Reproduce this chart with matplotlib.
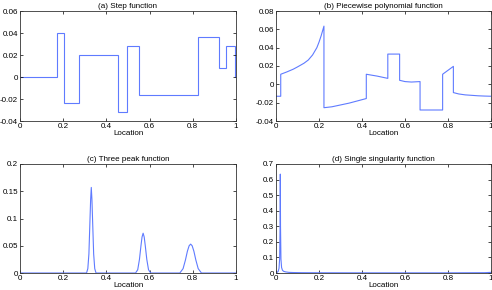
import matplotlib
matplotlib.use("Agg")
import matplotlib.pyplot as plt
import numpy as np

plt.rcParams['font.family'] = ['Liberation Sans', 'DejaVu Sans']

# (a) Step function: breakpoints and levels
step_edges = [0.0, 0.173, 0.206, 0.275, 0.456, 0.495, 0.553, 0.825, 0.923, 0.955, 0.995, 1.0]
step_levels = [0.0, 0.040, -0.024, 0.020, -0.032, 0.028, -0.016, 0.036, 0.008, 0.028, 0.0]

# (b) Piecewise polynomial: read points
poly_x = [0.0, 0.022, 0.022, 0.05, 0.08, 0.10, 0.13, 0.15, 0.17, 0.19, 0.20, 0.21, 0.223,
          0.223, 0.26, 0.30, 0.34, 0.38, 0.42,
          0.42, 0.47, 0.52,
          0.52, 0.575,
          0.575, 0.60, 0.63, 0.67,
          0.67, 0.775,
          0.775, 0.825,
          0.825, 0.85, 0.88, 0.91, 0.94, 0.97, 1.0]
poly_y = [-0.013, -0.013, 0.011, 0.0135, 0.0165, 0.019, 0.023, 0.0265, 0.032, 0.040, 0.046, 0.053, 0.0635,
          -0.0255, -0.0245, -0.0225, -0.0205, -0.018, -0.0155,
          0.011, 0.009, 0.0065,
          0.033, 0.033,
          0.0044, 0.003, 0.0025, 0.003,
          -0.028, -0.028,
          0.011, 0.0196,
          -0.009, -0.0105, -0.0115, -0.012, -0.0125, -0.0128, -0.013]

# (c) Three peak function: read points
peak_x = [0.0, 0.308, 0.314, 0.319, 0.323, 0.327, 0.33, 0.333, 0.337, 0.341, 0.346, 0.352,
          0.535, 0.545, 0.553, 0.560, 0.565, 0.57, 0.575, 0.580, 0.587, 0.595, 0.605,
          0.74, 0.755, 0.766, 0.775, 0.783, 0.79, 0.797, 0.805, 0.814, 0.825, 0.84, 1.0]
peak_y = [0.0, 0.0, 0.008, 0.035, 0.085, 0.135, 0.157, 0.135, 0.085, 0.035, 0.008, 0.0,
          0.0, 0.006, 0.025, 0.05, 0.066, 0.073, 0.066, 0.05, 0.025, 0.006, 0.0,
          0.0, 0.008, 0.024, 0.040, 0.050, 0.053, 0.050, 0.040, 0.024, 0.008, 0.0, 0.0]

# (d) Single singularity function: read points
sing_x = [0.0, 0.005, 0.010, 0.014, 0.017, 0.019, 0.020, 0.021, 0.023, 0.026, 0.030,
          0.035, 0.045, 0.06, 0.08, 0.12, 0.2, 0.4, 0.6, 0.8, 0.97, 1.0]
sing_y = [0.0, 0.004, 0.010, 0.03, 0.09, 0.30, 0.635, 0.30, 0.09, 0.035, 0.018,
          0.011, 0.007, 0.004, 0.003, 0.002, 0.0015, 0.001, 0.001, 0.001, 0.002, 0.004]

titles = ['(a) Step function', '(b) Piecewise polynomial function',
          '(c) Three peak function', '(d) Single singularity function']
ylims = [(-0.04, 0.06), (-0.04, 0.08), (0, 0.2), (0, 0.7)]
yticks = [[-0.04, -0.02, 0, 0.02, 0.04, 0.06],
          [-0.04, -0.02, 0, 0.02, 0.04, 0.06, 0.08],
          [0, 0.05, 0.1, 0.15, 0.2],
          [0, 0.1, 0.2, 0.3, 0.4, 0.5, 0.6, 0.7]]
xticks = [0, 0.2, 0.4, 0.6, 0.8, 1]

W, H = 492, 290
fig = plt.figure(figsize=(W / 100, H / 100), dpi=100)
boxes = [(20, 11, 236, 121), (276, 11, 491, 121), (20, 164, 236, 273), (276, 164, 491, 273)]
col = '#5f7bff'
fs = 5.8

def fmt(v):
    s = ('%g' % v)
    if s.startswith('0.'):
        s = '0' + s[1:]
    return s

for i, (l, t, r, b) in enumerate(boxes):
    ax = fig.add_axes([l / W, 1 - b / H, (r - l) / W, (b - t) / H])
    if i == 0:
        ax.stairs(step_levels, step_edges, color=col, lw=0.8, baseline=None)
        ax.plot([1.0, 1.0], [step_levels[-2], 0.0], color=col, lw=0.8)
    elif i == 1:
        ax.plot(poly_x, poly_y, color=col, lw=0.8)
    elif i == 2:
        ax.plot(peak_x, peak_y, color=col, lw=0.8)
    else:
        ax.plot(sing_x, sing_y, color=col, lw=0.8)
    ax.set_xlim(0, 1)
    ax.set_ylim(*ylims[i])
    ax.set_xticks(xticks)
    ax.set_xticklabels([fmt(v) for v in xticks])
    ax.set_yticks(yticks[i])
    ax.set_yticklabels([fmt(v) for v in yticks[i]])
    ax.tick_params(direction='in', length=2, width=0.5, labelsize=fs, pad=1.5,
                   top=True, right=True, colors='black')
    for s in ax.spines.values():
        s.set_linewidth(0.6)
        s.set_color('#333333')
    ax.set_title(titles[i], fontsize=fs, pad=2)
    ax.set_xlabel('Location', fontsize=fs, labelpad=0)

fig.savefig('out.png', dpi=100)
